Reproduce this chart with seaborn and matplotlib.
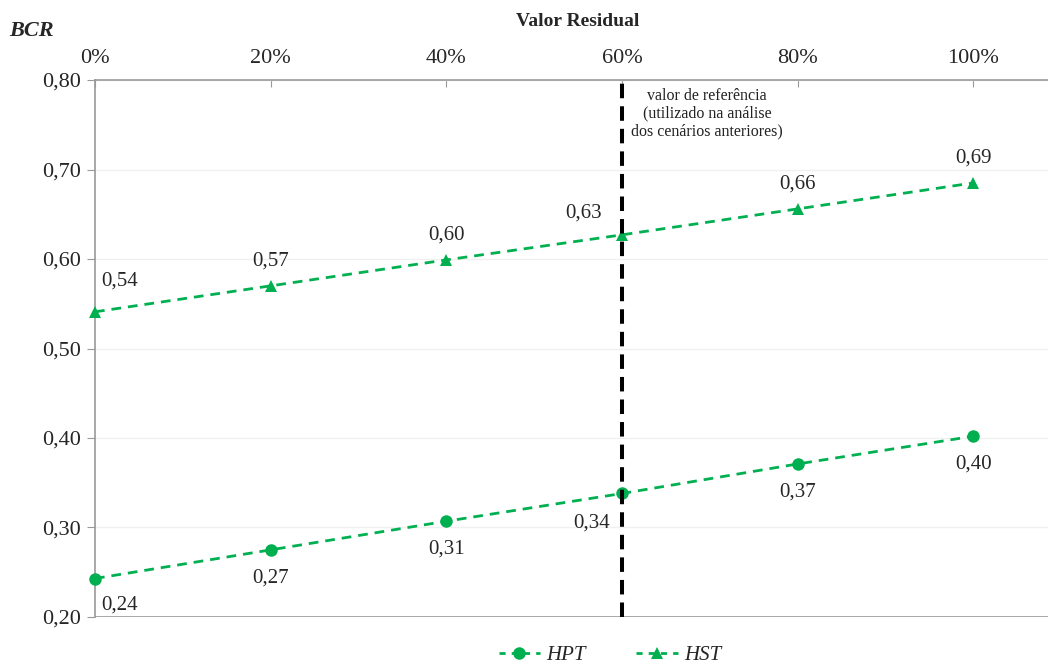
import matplotlib
matplotlib.use("Agg")
import matplotlib.pyplot as plt
import seaborn as sns
import pandas as pd
from matplotlib.ticker import FuncFormatter
from matplotlib.lines import Line2D

residual = [0, 20, 40, 60, 80, 100]
hpt = [0.243, 0.275, 0.307, 0.338, 0.371, 0.402]
hst = [0.541, 0.570, 0.599, 0.627, 0.656, 0.685]
hpt_labels = ["0,24", "0,27", "0,31", "0,34", "0,37", "0,40"]
hst_labels = ["0,54", "0,57", "0,60", "0,63", "0,66", "0,69"]
ref_value = 60
ref_text = "valor de referência\n(utilizado na análise\ndos cenários anteriores)"

sns.set_style("white")
plt.rcParams['font.family'] = ['Liberation Serif', 'DejaVu Serif']

green = "#00B050"
fig = plt.figure(figsize=(10.48, 6.64), dpi=100)
ax = fig.add_axes([0.0906, 0.0708, 0.9094, 0.8087])

df = pd.DataFrame({"x": residual * 2, "y": hpt + hst,
                   "s": ["HPT"] * 6 + ["HST"] * 6})
sns.lineplot(data=df, x="x", y="y", hue="s", style="s",
             palette={"HPT": green, "HST": green},
             markers={"HPT": "o", "HST": "^"},
             dashes={"HPT": (3.5, 2.5), "HST": (3.5, 2.5)},
             markersize=9, markeredgewidth=0, linewidth=2.0, ax=ax, legend=False,
             clip_on=False, zorder=3)

ax.set_xlim(0, 108.5)
ax.set_ylim(0.20, 0.80)
ax.set_yticks([0.2, 0.3, 0.4, 0.5, 0.6, 0.7, 0.8])
ax.yaxis.set_major_formatter(FuncFormatter(lambda v, p: f"{v:.2f}".replace(".", ",")))
ax.set_xticks(residual)
ax.set_xticklabels([f"{v}%" for v in residual])
ax.xaxis.tick_top()
ax.tick_params(axis="x", top=True, bottom=False, direction="in", length=5, color="#999999",
               labelsize=16, pad=9)
ax.tick_params(axis="y", left=True, direction="out", length=6, color="#999999", labelsize=16, pad=4)
ax.grid(axis="y", color="#f0f0f0", linewidth=1)
for s in ["right", "bottom"]:
    ax.spines[s].set_visible(False)
for s in ["left", "top"]:
    ax.spines[s].set_color("#999999")
    ax.spines[s].set_linewidth(1.2)
ax.axhline(0.20, color="#999999", linewidth=1.2, xmax=1.0)

ax.axvline(ref_value, color="black", linestyle=(0, (3.6, 2.0)), linewidth=2.9, zorder=4)
ax.text(ref_value + 9.7, 0.791, ref_text, ha="center", va="top", fontsize=11.5, color="#222222",
        linespacing=1.12)

ax.set_xlabel("")
ax.set_ylabel("")

hst_offsets = [(18, 22), (0, 18), (0, 18), (-28, 16), (0, 18), (0, 18)]
hpt_offsets = [(18, -19), (0, -20), (0, -20), (-22, -21), (0, -20), (0, -20)]
for x, y, lab, off in zip(residual, hst, hst_labels, hst_offsets):
    ax.annotate(lab, (x, y), xytext=off, textcoords="offset points", ha="center", va="center",
                fontsize=15)
for x, y, lab, off in zip(residual, hpt, hpt_labels, hpt_offsets):
    ax.annotate(lab, (x, y), xytext=off, textcoords="offset points", ha="center", va="center",
                fontsize=15)

fig.text(0.551, 0.968, "Valor Residual", ha="center", va="center", fontsize=14, fontweight="bold")
fig.text(0.009, 0.953, "BCR", ha="left", va="center", fontsize=16, fontweight="bold", style="italic")

handles = [Line2D([0], [0], color=green, marker="o", linestyle=(0, (2.2, 2.2)), markersize=9,
                  markeredgewidth=0, linewidth=2.0),
           Line2D([0], [0], color=green, marker="^", linestyle=(0, (2.2, 2.2)), markersize=9,
                  markeredgewidth=0, linewidth=2.0)]
leg = fig.legend(handles, ["HPT", "HST"], loc="center", bbox_to_anchor=(0.582, 0.013), ncol=2,
                 frameon=False, prop={"size": 15, "style": "italic"}, handlelength=2.0,
                 columnspacing=2.4, handletextpad=0.3)

fig.savefig("out.png", dpi=100)
